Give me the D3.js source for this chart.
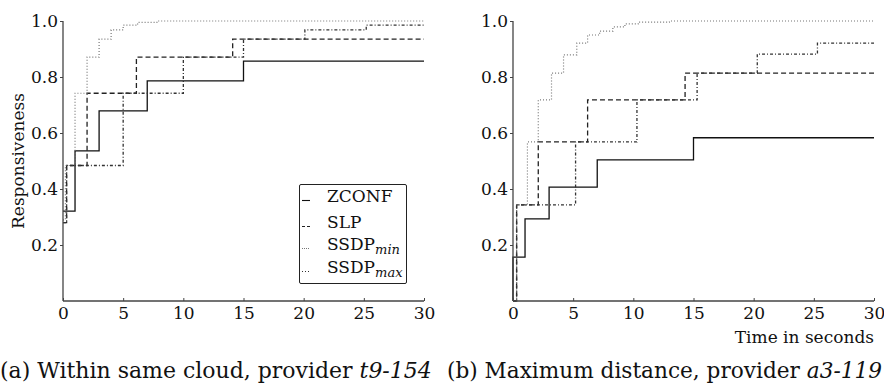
<!DOCTYPE html>
<html>
<head>
<meta charset="utf-8">
<script src="https://cdn.jsdelivr.net/npm/d3@7/dist/d3.min.js"></script>
<style>
  html, body { margin: 0; padding: 0; background: #fff; }
  svg { display: block; }
  text { font-family: "DejaVu Serif", serif; fill: #111; }
</style>
</head>
<body>
<svg id="chart" width="884" height="390"></svg>
<script>
// ---------- data ----------
const xTicks = [0, 5, 10, 15, 20, 25, 30];
const yTicks = [0.2, 0.4, 0.6, 0.8, 1.0];
const seriesNames = ["ZCONF", "SLP", "SSDPmin", "SSDPmax"];

// Panel (a): Within same cloud, provider t9-154
const a_zconf_t = [0, 1, 3, 7, 15, 30];
const a_zconf_v = [0.321, 0.536, 0.679, 0.786, 0.857, 0.857];
const a_slp_t = [0, 0.3, 2, 6.1, 14.1, 30];
const a_slp_v = [0.28, 0.484, 0.742, 0.871, 0.935, 0.935];
const a_min_t = [0, 0.2, 1, 2, 3, 4, 5, 6.2, 7.8, 30];
const a_min_v = [0.29, 0.484, 0.742, 0.871, 0.935, 0.968, 0.985, 0.995, 1.0, 1.0];
const a_max_t = [0, 0.3, 5, 10, 15, 20.1, 25.2, 30];
const a_max_v = [0.28, 0.484, 0.742, 0.871, 0.935, 0.968, 0.985, 0.985];

// Panel (b): Maximum distance, provider a3-119
const b_zconf_t = [0, 0, 1, 3, 7, 15, 30];
const b_zconf_v = [0, 0.157, 0.293, 0.407, 0.504, 0.583, 0.583];
const b_slp_t = [0, 0.3, 2.1, 6.2, 14.3, 30];
const b_slp_v = [0, 0.343, 0.568, 0.718, 0.814, 0.814];
const b_min_t = [0, 0.3, 1.2, 2.1, 3.2, 4.2, 5.3, 6.2, 7.2, 8.3, 9.3, 10.4, 13, 30];
const b_min_v = [0, 0.343, 0.568, 0.718, 0.814, 0.879, 0.921, 0.95, 0.964, 0.979, 0.99, 0.996, 1.0, 1.0];
const b_max_t = [0, 0.3, 5.2, 10.3, 15.3, 20.3, 25.3, 30];
const b_max_v = [0, 0.343, 0.568, 0.718, 0.814, 0.882, 0.921, 0.921];

const captionA = ["(a) Within same cloud, provider ", "t9-154"];
const captionB = ["(b) Maximum distance, provider ", "a3-119"];

// ---------- styles ----------
const styles = {
  ZCONF:   { stroke: "#111", dash: null,      width: 1.3 },
  SLP:     { stroke: "#222", dash: "5,3",     width: 1.3 },
  SSDPmin: { stroke: "#777", dash: "1,2",     width: 1.2 },
  SSDPmax: { stroke: "#333", dash: "3,2,1,2", width: 1.3 }
};

const svg = d3.select("#chart");
const zip = (t, v) => t.map((d, i) => ({ t: d, v: v[i] }));

const panels = [
  { x0: 63, x1: 424, series: [
      ["ZCONF", zip(a_zconf_t, a_zconf_v)], ["SLP", zip(a_slp_t, a_slp_v)],
      ["SSDPmin", zip(a_min_t, a_min_v)], ["SSDPmax", zip(a_max_t, a_max_v)]],
    ylabel: true, xlabel: false, legend: true },
  { x0: 513, x1: 874, series: [
      ["ZCONF", zip(b_zconf_t, b_zconf_v)], ["SLP", zip(b_slp_t, b_slp_v)],
      ["SSDPmin", zip(b_min_t, b_min_v)], ["SSDPmax", zip(b_max_t, b_max_v)]],
    ylabel: false, xlabel: true, legend: false }
];

const yTop = 21, yBot = 301;
const fontSize = 17;

panels.forEach(p => {
  const x = d3.scaleLinear().domain([0, 30]).range([p.x0, p.x1]);
  const y = d3.scaleLinear().domain([0, 1]).range([yBot, yTop]);
  const g = svg.append("g");

  // lines
  const line = d3.line().x(d => x(d.t)).y(d => y(d.v)).curve(d3.curveStepAfter);
  p.series.forEach(([name, data]) => {
    const s = styles[name];
    g.append("path").datum(data)
      .attr("d", line)
      .attr("fill", "none")
      .attr("stroke", s.stroke)
      .attr("stroke-width", s.width)
      .attr("stroke-dasharray", s.dash);
  });

  // axes
  const xAxis = d3.axisBottom(x).tickValues(xTicks).tickSize(-3).tickPadding(6).tickFormat(d3.format("d"));
  const yAxis = d3.axisLeft(y).tickValues(yTicks).tickSize(3).tickPadding(2).tickFormat(d3.format(".1f"));
  const gx = g.append("g").attr("transform", `translate(0,${yBot})`).call(xAxis);
  const gy = g.append("g").attr("transform", `translate(${p.x0},0)`).call(yAxis);
  [gx, gy].forEach(a => {
    a.select(".domain").attr("stroke", "#444").attr("stroke-width", 1.3);
    a.selectAll(".tick line").attr("stroke", "#444");
    a.selectAll("text").attr("font-family", "DejaVu Serif").attr("font-size", fontSize).attr("fill", "#111");
  });
  gx.select(".domain").attr("d", `M${p.x0},0H${p.x1}`);
  gy.select(".domain").attr("d", `M0,${yBot}V${yTop}`);

  if (p.ylabel) {
    g.append("text")
      .attr("transform", `translate(24,161) rotate(-90)`)
      .attr("text-anchor", "middle")
      .attr("font-size", fontSize)
      .text("Responsiveness");
  }
  if (p.xlabel) {
    g.append("text")
      .attr("x", p.x1).attr("y", 343)
      .attr("text-anchor", "end")
      .attr("font-size", fontSize)
      .text("Time in seconds");
  }
  if (p.legend) {
    const lg = g.append("g");
    lg.append("rect").attr("x", 299.5).attr("y", 184.5).attr("width", 107).attr("height", 99)
      .attr("fill", "#fff").attr("stroke", "#222").attr("stroke-width", 1).attr("rx", 1.5);
    const baselines = [202, 228, 250, 273];
    const labels = [["ZCONF", null], ["SLP", null], ["SSDP", "min"], ["SSDP", "max"]];
    seriesNames.forEach((name, i) => {
      const s = styles[name];
      lg.append("line").attr("x1", 302).attr("x2", 310)
        .attr("y1", baselines[i] - 1.5).attr("y2", baselines[i] - 1.5)
        .attr("stroke", s.stroke).attr("stroke-width", 1.1)
        .attr("stroke-dasharray", name === "SLP" ? "3,2" : name === "SSDPmin" ? "1,1" : name === "SSDPmax" ? "1,2" : null);
      const t = lg.append("text").attr("x", 327).attr("y", baselines[i]).attr("font-size", fontSize);
      t.append("tspan").text(labels[i][0]);
      if (labels[i][1]) {
        t.append("tspan").attr("font-style", "italic").attr("font-size", 13).attr("dy", 4).text(labels[i][1]);
      }
    });
  }
});

// captions
function caption(x, parts) {
  const t = svg.append("text").attr("x", x).attr("y", 378).attr("font-size", 18);
  t.append("tspan").text(parts[0]);
  t.append("tspan").attr("font-style", "italic").text(parts[1]);
  return t;
}
const ca = caption(0, captionA);
const cb = caption(447, captionB);
const fsA = 18 * 432 / ca.node().getComputedTextLength();
ca.attr("font-size", fsA);
cb.attr("font-size", fsA);
const wb = cb.node().getComputedTextLength();
if (447 + wb > 882) cb.attr("font-size", fsA * (882 - 447) / wb);
</script>
</body>
</html>
